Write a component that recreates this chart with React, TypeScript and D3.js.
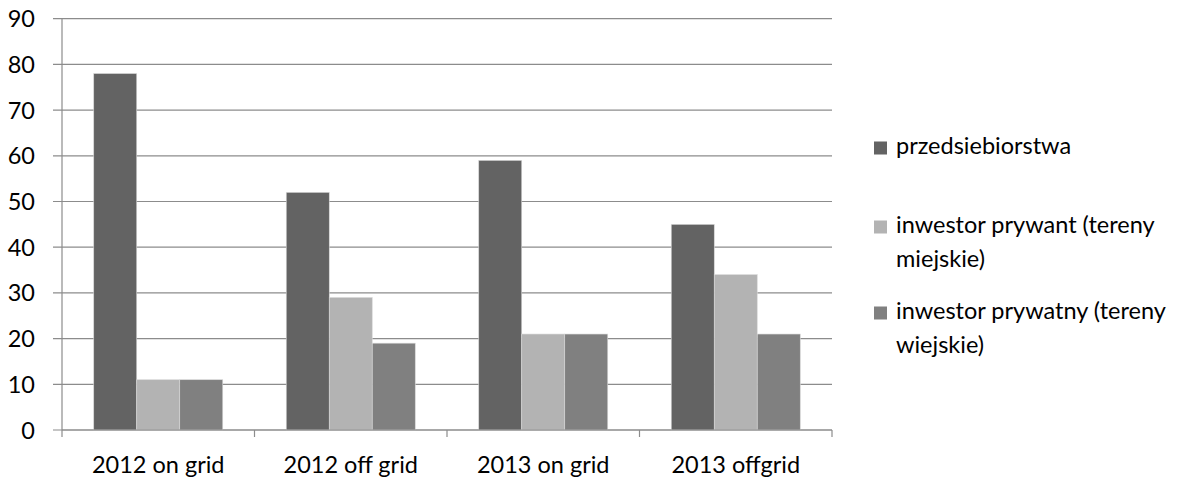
import React from "react";
import * as d3 from "d3";

const categories = ["2012 on grid", "2012 off grid", "2013 on grid", "2013 offgrid"];
const seriesNames = ["przedsiebiorstwa", "inwestor prywant (tereny miejskie)", "inwestor prywatny (tereny wiejskie)"];
const legendLines = [["przedsiebiorstwa"], ["inwestor prywant (tereny", "miejskie)"], ["inwestor prywatny (tereny", "wiejskie)"]];
const przedsiebiorstwa = [78, 52, 59, 45];
const miejskie = [11, 29, 21, 34];
const wiejskie = [11, 19, 21, 21];
const yTicks = [0, 10, 20, 30, 40, 50, 60, 70, 80, 90];
const colors = ["#636363", "#b3b3b3", "#808080"];

const W = 1191, H = 477;
const left = 62, right = 832, top = 18.7, bottom = 430;
const font = "Lato, 'Open Sans', sans-serif";
const fs = 23.5;

export default function App() {
  const series = [przedsiebiorstwa, miejskie, wiejskie];
  const x = d3.scaleBand().domain(categories).range([left, right]).paddingInner(0).paddingOuter(0);
  const inner = d3.scaleBand().domain(seriesNames).range([0, x.bandwidth()]).paddingInner(0).paddingOuter(0.738);
  const y = d3.scaleLinear().domain([0, 90]).range([bottom, top]);
  const legendY = [148, 227, 313];
  return (
    <svg width={W} height={H} style={{ position: "absolute", left: 0, top: 0 }} fontFamily={font}>
      {yTicks.map((t) => (
        <g key={t}>
          <line x1={53} x2={right} y1={y(t)} y2={y(t)} stroke="#8c8c8c" strokeWidth={1.2} />
          <text x={35} y={y(t) + 8.5} textAnchor="end" fontSize={fs} fill="#000">{t}</text>
        </g>
      ))}
      {series.map((vals, si) =>
        vals.map((v, ci) => (
          <rect key={si + "-" + ci}
            x={x(categories[ci])! + inner(seriesNames[si])!}
            width={inner.bandwidth()}
            y={y(v)} height={y(0) - y(v)}
            fill={colors[si]} stroke="#d9d9d9" strokeWidth={0.6} />
        ))
      )}
      <line x1={left} x2={left} y1={top} y2={bottom} stroke="#8c8c8c" strokeWidth={1.2} />
      <line x1={left} x2={right} y1={bottom} y2={bottom} stroke="#8c8c8c" strokeWidth={1.2} />
      {[...categories.map((c) => x(c)!), right].map((px, i) => (
        <line key={i} x1={px} x2={px} y1={bottom} y2={bottom + 7} stroke="#8c8c8c" strokeWidth={1.2} />
      ))}
      {categories.map((c) => (
        <text key={c} x={x(c)! + x.bandwidth() / 2} y={473} textAnchor="middle" fontSize={fs}>{c}</text>
      ))}
      {legendLines.map((lines, i) => (
        <g key={i}>
          <rect x={874} y={legendY[i] - 6.5} width={13} height={13} fill={colors[i]} />
          {lines.map((ln, j) => (
            <text key={j} x={896} y={legendY[i] + j * 34 + 6} fontSize={fs}>{ln}</text>
          ))}
        </g>
      ))}
    </svg>
  );
}
